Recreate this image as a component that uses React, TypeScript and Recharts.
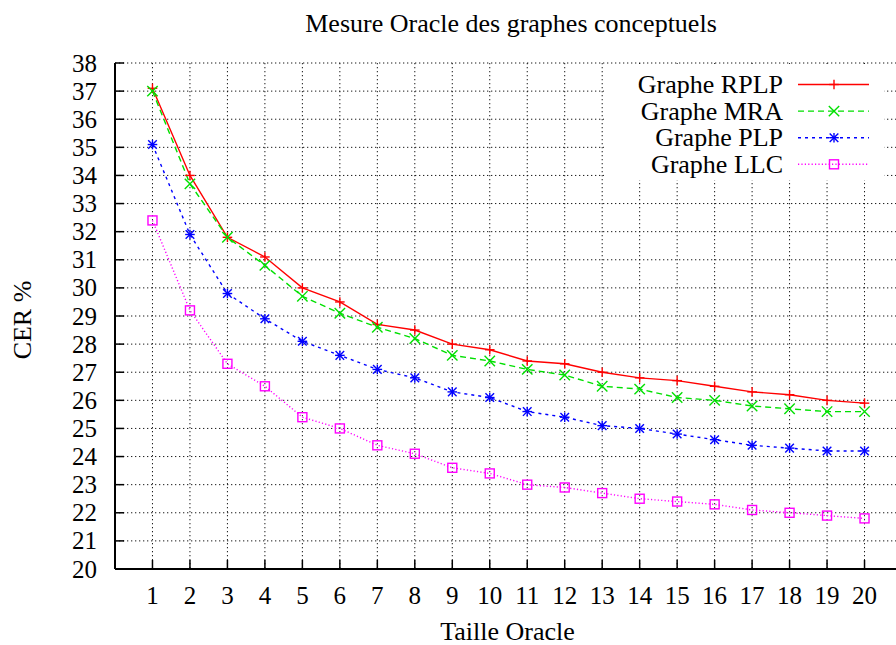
import React from 'react';
import { LineChart, Line, XAxis, YAxis, CartesianGrid, Legend } from 'recharts';

const tailles = [1, 2, 3, 4, 5, 6, 7, 8, 9, 10, 11, 12, 13, 14, 15, 16, 17, 18, 19, 20];
const rplp = [37.1, 34.0, 31.8, 31.1, 30.0, 29.5, 28.7, 28.5, 28.0, 27.8, 27.4, 27.3, 27.0, 26.8, 26.7, 26.5, 26.3, 26.2, 26.0, 25.9];
const mra = [37.0, 33.7, 31.8, 30.8, 29.7, 29.1, 28.6, 28.2, 27.6, 27.4, 27.1, 26.9, 26.5, 26.4, 26.1, 26.0, 25.8, 25.7, 25.6, 25.6];
const plp = [35.1, 31.9, 29.8, 28.9, 28.1, 27.6, 27.1, 26.8, 26.3, 26.1, 25.6, 25.4, 25.1, 25.0, 24.8, 24.6, 24.4, 24.3, 24.2, 24.2];
const llc = [32.4, 29.2, 27.3, 26.5, 25.4, 25.0, 24.4, 24.1, 23.6, 23.4, 23.0, 22.9, 22.7, 22.5, 22.4, 22.3, 22.1, 22.0, 21.9, 21.8];
const yTicks = [20, 21, 22, 23, 24, 25, 26, 27, 28, 29, 30, 31, 32, 33, 34, 35, 36, 37, 38];
const xTicks = tailles;

const titre = 'Mesure Oracle des graphes conceptuels';
const xTitre = 'Taille Oracle';
const yTitre = 'CER %';

const FONT = '"Liberation Serif", "Times New Roman", serif';

type MarkerKind = 'plus' | 'cross' | 'star' | 'square';

const series: { key: string; name: string; color: string; dash?: string; marker: MarkerKind }[] = [
  { key: 'rplp', name: 'Graphe RPLP', color: '#ff0000', marker: 'plus' },
  { key: 'mra', name: 'Graphe MRA', color: '#00e000', dash: '6 4', marker: 'cross' },
  { key: 'plp', name: 'Graphe PLP', color: '#0000ff', dash: '3 4', marker: 'star' },
  { key: 'llc', name: 'Graphe LLC', color: '#ff00ff', dash: '1.2 2.2', marker: 'square' },
];

const data = tailles.map((t, i) => ({ t, rplp: rplp[i], mra: mra[i], plp: plp[i], llc: llc[i] }));

function Marker({ cx, cy, kind, color }: { cx: number; cy: number; kind: MarkerKind; color: string }) {
  if (cx == null || cy == null) return null;
  const sw = 1.4;
  if (kind === 'plus') {
    const s = 4.8;
    return (
      <g stroke={color} strokeWidth={sw}>
        <line x1={cx - s} y1={cy} x2={cx + s} y2={cy} />
        <line x1={cx} y1={cy - s} x2={cx} y2={cy + s} />
      </g>
    );
  }
  if (kind === 'cross') {
    const s = 5.2;
    return (
      <g stroke={color} strokeWidth={sw}>
        <line x1={cx - s} y1={cy - s} x2={cx + s} y2={cy + s} />
        <line x1={cx - s} y1={cy + s} x2={cx + s} y2={cy - s} />
      </g>
    );
  }
  if (kind === 'star') {
    const s = 4.8;
    const d = 4.3;
    return (
      <g stroke={color} strokeWidth={sw}>
        <line x1={cx - s} y1={cy} x2={cx + s} y2={cy} />
        <line x1={cx} y1={cy - s} x2={cx} y2={cy + s} />
        <line x1={cx - d} y1={cy - d} x2={cx + d} y2={cy + d} />
        <line x1={cx - d} y1={cy + d} x2={cx + d} y2={cy - d} />
      </g>
    );
  }
  const h = 4.5;
  return <rect x={cx - h} y={cy - h} width={2 * h} height={2 * h} fill="none" stroke={color} strokeWidth={sw} />;
}

const BottomTick = (props: any) => {
  const { x, y, payload } = props;
  return (
    <g>
      <line x1={x} x2={x} y1={y} y2={y - 9} stroke="#000" strokeWidth={1.5} />
      <text x={x} y={y + 35} textAnchor="middle" fontFamily={FONT} fontSize={25} fill="#000">
        {payload.value}
      </text>
    </g>
  );
};

const TopTick = (props: any) => {
  const { x, y } = props;
  return <line x1={x} x2={x} y1={y} y2={y + 9} stroke="#000" strokeWidth={1.5} />;
};

const LeftTick = (props: any) => {
  const { x, y, payload } = props;
  return (
    <g>
      <line x1={x} x2={x + 9} y1={y} y2={y} stroke="#000" strokeWidth={1.5} />
      <text x={x - 18} y={y + 8.5} textAnchor="end" fontFamily={FONT} fontSize={25} fill="#000">
        {payload.value}
      </text>
    </g>
  );
};

const RightTick = (props: any) => {
  const { x, y } = props;
  return <line x1={x} x2={x - 9} y1={y} y2={y} stroke="#000" strokeWidth={1.5} />;
};

const renderLegend = () => {
  return (
    <svg width={280} height={116} style={{ display: 'block', background: '#fff', overflow: 'visible' }}>
      {series.map((s, i) => {
        const cy = 20.5 + 26.6 * i;
        return (
          <g key={s.key}>
            <text x={179} y={cy + 8.5} textAnchor="end" fontFamily={FONT} fontSize={26} fill="#000">
              {s.name}
            </text>
            <line x1={194} x2={265} y1={cy} y2={cy} stroke={s.color} strokeWidth={1.4} strokeDasharray={s.dash} />
            <Marker cx={230} cy={cy} kind={s.marker} color={s.color} />
          </g>
        );
      })}
    </svg>
  );
};

export default function App() {
  return (
    <div style={{ position: 'fixed', left: 0, top: 0, width: 896, height: 645, overflow: 'hidden', background: '#fff' }}>
      <svg width={896} height={50} style={{ position: 'absolute', left: 0, top: 0 }}>
        <text x={511} y={32} textAnchor="middle" fontFamily={FONT} fontSize={26} fill="#000">
          {titre}
        </text>
      </svg>
      <div style={{ position: 'absolute', left: 0, top: 0 }}>
        <LineChart width={910} height={645} data={data} margin={{ top: 63, right: 8, bottom: 0, left: 0 }}>
          <CartesianGrid stroke="#000" strokeWidth={1} strokeDasharray="1.3 2.7" strokeOpacity={0.9} />
          <XAxis
            dataKey="t"
            type="number"
            domain={[0, 21]}
            ticks={xTicks}
            allowDataOverflow
            height={76}
            tickSize={0}
            tickMargin={0}
            tickLine={false}
            axisLine={{ stroke: '#000', strokeWidth: 2 }}
            tick={<BottomTick />}
            interval={0}
            label={{
              content: (p: any) => {
                const vb = p.viewBox || { x: 115, y: 569, width: 787, height: 76 };
                return (
                  <text x={vb.x + vb.width / 2 - 1} y={vb.y + 71} textAnchor="middle" fontFamily={FONT} fontSize={26} fill="#000">
                    {xTitre}
                  </text>
                );
              },
            }}
          />
          <XAxis
            xAxisId="top"
            orientation="top"
            type="number"
            domain={[0, 21]}
            ticks={xTicks}
            allowDataOverflow
            height={0}
            tickSize={0}
            tickMargin={0}
            tickLine={false}
            axisLine={{ stroke: '#000', strokeWidth: 2 }}
            tick={<TopTick />}
            interval={0}
          />
          <YAxis
            type="number"
            domain={[20, 38]}
            ticks={yTicks}
            allowDataOverflow
            width={115}
            tickSize={0}
            tickMargin={0}
            tickLine={false}
            axisLine={{ stroke: '#000', strokeWidth: 2 }}
            tick={<LeftTick />}
            interval={0}
            label={{
              content: (p: any) => {
                const vb = p.viewBox || { x: 0, y: 63, width: 115, height: 506 };
                const cx = 31;
                const cy = vb.y + vb.height / 2 + 4;
                return (
                  <text x={cx} y={cy} textAnchor="middle" transform={`rotate(-90, ${cx}, ${cy})`} fontFamily={FONT} fontSize={26} fill="#000">
                    {yTitre}
                  </text>
                );
              },
            }}
          />
          <YAxis
            yAxisId="right"
            orientation="right"
            type="number"
            domain={[20, 38]}
            ticks={yTicks}
            allowDataOverflow
            width={0}
            tickSize={0}
            tickMargin={0}
            tickLine={false}
            axisLine={{ stroke: '#000', strokeWidth: 2 }}
            tick={<RightTick />}
            interval={0}
          />
          <Legend
            layout="vertical"
            align="center"
            verticalAlign="middle"
            content={renderLegend}
            wrapperStyle={{ position: 'absolute', left: 604, top: 64, width: 280, height: 116, background: '#fff' }}
          />
          {series.map((s) => (
            <Line
              key={s.key}
              dataKey={s.key}
              name={s.name}
              type="linear"
              stroke={s.color}
              strokeWidth={1.4}
              strokeDasharray={s.dash}
              isAnimationActive={false}
              activeDot={false}
              dot={(p: any) => <Marker key={`${s.key}-${p.index}`} cx={p.cx} cy={p.cy} kind={s.marker} color={s.color} />}
            />
          ))}
        </LineChart>
      </div>
    </div>
  );
}
